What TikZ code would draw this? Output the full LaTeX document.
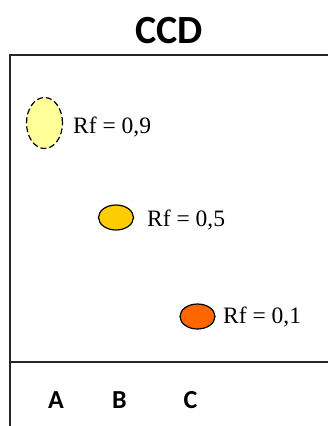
\documentclass[tikz,border=0pt]{standalone}
\usepackage{fontspec}
\setmainfont{Liberation Serif}
\newfontfamily\calib{Carlito}
\usetikzlibrary{shapes.geometric}
\definecolor{spotA}{HTML}{FFFF99}
\definecolor{spotB}{HTML}{FFCC00}
\definecolor{spotC}{HTML}{FF6600}
\tikzset{
  frameline/.style={line width=1.6pt, draw=black!85},
  spot/.style={ellipse, draw=black, line width=1.2pt, inner sep=0pt, minimum width=35pt, minimum height=25pt},
  rflabel/.style={anchor=base west, inner sep=0pt, font=\fontsize{23.5}{23.5}\selectfont},
  lane/.style={anchor=base, inner sep=0pt, font=\calib\bfseries\fontsize{26}{26}\selectfont},
}
\begin{document}
\begin{tikzpicture}[x=1pt,y=-1pt]
\useasboundingbox (0,0) rectangle (328,426);
\fill[white] (0,0) rectangle (328,426);
% title
\node[anchor=base, inner sep=0pt, font=\calib\bfseries\fontsize{40}{40}\selectfont] (title) at (169,43) {CCD};
% frame
\coordinate (tl) at (10,55);
\coordinate (tr) at (328,55);
\coordinate (bl) at (10,426);
\coordinate (ml) at (10,362);
\coordinate (mr) at (328,362);
\draw[frameline] (tr) -- (tl) -- (bl);
\draw[frameline] (ml) -- (mr);
% spots
\node[spot, fill=spotA, dash pattern=on 6pt off 3pt, minimum width=36pt, minimum height=51pt] (s1) at (44.5,123) {};
\node[spot, fill=spotB] (s2) at (116,217.5) {};
\node[spot, fill=spotC] (s3) at (197.5,316.5) {};
% labels
\node[rflabel] (r1) at (73,133) {Rf = 0,9};
\node[rflabel] (r2) at (147,226) {Rf = 0,5};
\node[rflabel] (r3) at (223,323) {Rf = 0,1};
% lanes
\node[lane] (la) at (56,408) {A};
\node[lane] (lb) at (119.5,408) {B};
\node[lane] (lc) at (190.5,408) {C};
\end{tikzpicture}
\end{document}
